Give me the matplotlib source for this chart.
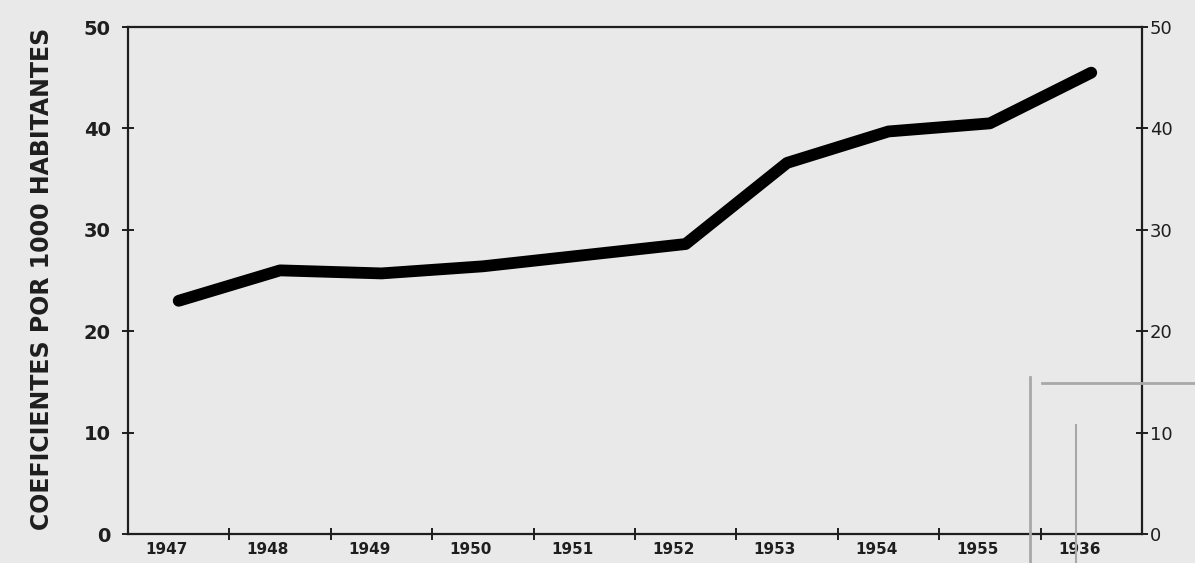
import numpy as np
from matplotlib import pyplot as plt
from matplotlib.lines import Line2D

years = ['1947', '1948', '1949', '1950', '1951', '1952', '1953', '1954', '1955', '1936']
coeficientes = [23.0, 26.0, 25.7, 26.4, 27.5, 28.6, 36.6, 39.7, 40.5, 45.5]
yticks = [0, 10, 20, 30, 40, 50]

paper = '#e9e9e9'
ink = '#1e1e1e'

fig = plt.figure(figsize=(11.95, 5.63), dpi=100, facecolor=paper)
ax = fig.add_axes([0.1071, 0.0515, 0.8485, 0.9005], facecolor=paper)

x = np.arange(len(years))
ax.plot(x, coeficientes, color='black', lw=8.5, solid_capstyle='round',
        solid_joinstyle='round', zorder=3)

ax.set_xlim(-0.5, len(years) - 0.5)
ax.set_ylim(0, 50)
for s in ax.spines.values():
    s.set_color(ink)
    s.set_linewidth(1.6)

# year labels sit between the tick marks
ax.set_xticks(x - 0.12)
ax.set_xticklabels(years, fontsize=11, fontweight='bold', color=ink)
ax.set_xticks(np.arange(0.5, len(years) - 1), minor=True)
ax.tick_params(axis='x', which='major', length=0, pad=6)
ax.tick_params(axis='x', which='minor', direction='inout', length=9, width=1.4, color=ink)

ax.set_yticks(yticks)
ax.set_yticklabels([str(v) for v in yticks], fontsize=14, fontweight='bold', color=ink)
ax.tick_params(axis='y', direction='inout', length=9, width=1.4, color=ink, pad=8)

ax2 = ax.twinx()
ax2.set_ylim(0, 50)
ax2.set_yticks(yticks)
ax2.set_yticklabels([str(v) for v in yticks], fontsize=13, color=ink)
ax2.tick_params(axis='y', direction='inout', length=9, width=1.4, color=ink, pad=1)
for s in ax2.spines.values():
    s.set_visible(False)

fig.text(0.035, 0.505, 'COEFICIENTES POR 1000 HABITANTES', rotation=90,
         fontsize=17, fontweight='bold', color=ink, ha='center', va='center')

# scanner watermark frame in the corner
wm = '#a8a8a8'
fig.add_artist(Line2D([0.862, 0.862], [0.0, 0.33], transform=fig.transFigure, color=wm, lw=2))
fig.add_artist(Line2D([0.872, 1.0], [0.32, 0.32], transform=fig.transFigure, color=wm, lw=2))
fig.add_artist(Line2D([0.9, 0.9], [0.0, 0.245], transform=fig.transFigure, color=wm, lw=1.5))

plt.savefig('out.png', dpi=100, facecolor=paper)
